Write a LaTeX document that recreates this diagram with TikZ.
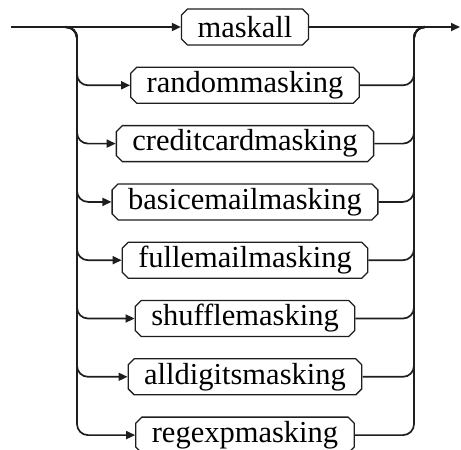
\documentclass[tikz,border=0pt]{standalone}
\usepackage{fontspec}
\setmainfont{Liberation Serif}
\usepackage{tikz}
\usetikzlibrary{arrows.meta,positioning,shapes.misc}
\definecolor{ink}{HTML}{1E1E1E}
\tikzset{
  >={Triangle[length=9pt,width=8pt]},
  rail/.style={line width=1.7pt,draw=ink,rounded corners=11pt},
  flow/.style={rail,->},
  kwbox/.style={chamfered rectangle,chamfered rectangle xsep=3pt,chamfered rectangle ysep=3pt,
    draw=ink,line width=1.3pt,inner xsep=13pt,inner ysep=0pt,minimum height=36pt,
    font=\fontsize{30.5}{32}\selectfont}
}

\begin{document}
\begin{tikzpicture}[x=1pt,y=-1pt,node distance=21pt]
  \useasboundingbox (0,0) rectangle (461,450);
  \node[kwbox] (maskall) at (245,27) {maskall};
  \node[kwbox,below=of maskall] (random) {randommasking};
  \node[kwbox,below=of random] (credit) {creditcardmasking};
  \node[kwbox,below=of credit] (basic) {basicemailmasking};
  \node[kwbox,below=of basic] (fullmail) {fullemailmasking};
  \node[kwbox,below=of fullmail] (shuffle) {shufflemasking};
  \node[kwbox,below=of shuffle] (digits) {alldigitsmasking};
  \node[kwbox,below=of digits] (regexp) {regexpmasking};
  \coordinate (in) at (11,27); \coordinate (out) at (460,27);
  \coordinate (lj) at (66,27); \coordinate (rj) at (424,27);
  \coordinate (lrail) at (77,0); \coordinate (rrail) at (414,0);
  % main line
  \draw[flow] (in)--(maskall); \draw[flow] (maskall)--(out);
  % left branches
  \draw[flow] (lj) -| (lrail |- random) -- (random); \draw[flow] (lj) -| (lrail |- credit) -- (credit);
  \draw[flow] (lj) -| (lrail |- basic) -- (basic); \draw[flow] (lj) -| (lrail |- fullmail) -- (fullmail);
  \draw[flow] (lj) -| (lrail |- shuffle) -- (shuffle); \draw[flow] (lj) -| (lrail |- digits) -- (digits);
  \draw[flow] (lj) -| (lrail |- regexp) -- (regexp);
  % right branches
  \draw[rail] (random) -| (rrail |- rj) -- (rj); \draw[rail] (credit) -| (rrail |- rj) -- (rj);
  \draw[rail] (basic) -| (rrail |- rj) -- (rj); \draw[rail] (fullmail) -| (rrail |- rj) -- (rj);
  \draw[rail] (shuffle) -| (rrail |- rj) -- (rj); \draw[rail] (digits) -| (rrail |- rj) -- (rj);
  \draw[rail] (regexp) -| (rrail |- rj) -- (rj);
  \fill[ink] (lj) circle (1.5pt) (rj) circle (1.5pt);
\end{tikzpicture}
\end{document}
